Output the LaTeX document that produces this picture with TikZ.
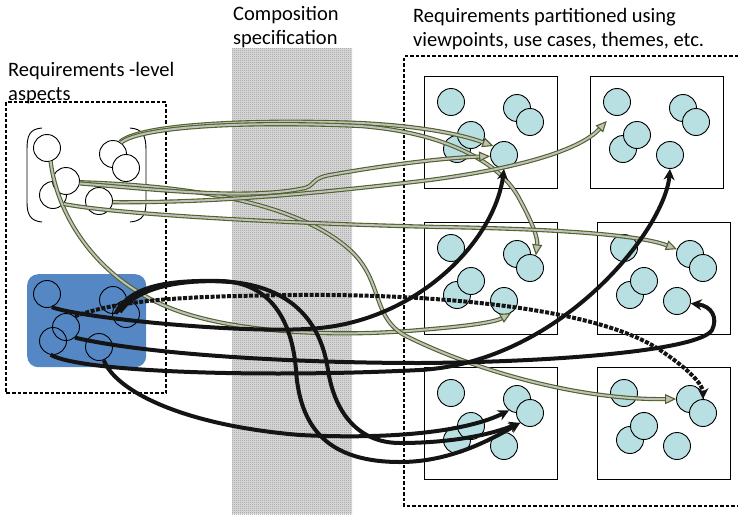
\documentclass[tikz,border=0pt]{standalone}
\usepackage{fontspec}
\setmainfont{Carlito}
\usetikzlibrary{arrows.meta,patterns.meta,positioning}

\definecolor{reqblue}{RGB}{84,135,196}
\definecolor{reqcyan}{RGB}{184,223,226}
\definecolor{linkolive}{RGB}{79,98,40}
\definecolor{linkgrey}{RGB}{192,193,190}

% fine checker used for the composition strip
\tikzdeclarepattern{
  name=finecheck,
  type=uncolored,
  bottom left={(0pt,0pt)}, top right={(2pt,2pt)},
  tile size={(2pt,2pt)},
  code={
    \pgfpathrectangle{\pgfpointorigin}{\pgfqpoint{1pt}{1pt}}
    \pgfpathrectangle{\pgfqpoint{1pt}{1pt}}{\pgfqpoint{1pt}{1pt}}
    \pgfusepath{fill}
  }
}

\tikzset{
  circ/.style={circle, draw=black, line width=0.9pt, minimum size=27pt, inner sep=0pt},
  aspect/.style={circ, fill=white},
  vp/.style={circ, fill=reqcyan},
  vpbox/.style={draw=black, line width=1pt, minimum width=133pt, minimum height=112pt,
    anchor=north west, inner sep=0pt},
  dashbox/.style={draw=black, line width=1.4pt, dash pattern=on 3.5pt off 2pt},
  glink/.style={draw=linkolive, line width=1.1pt, double=linkgrey, double distance=2pt,
    -{Triangle[length=11pt, width=10pt, fill=linkgrey]}},
  klink/.style={draw=black!92, line width=4pt, -{Stealth[length=11pt, width=11pt]}},
  lbl/.style={anchor=north west, align=left, inner sep=0pt, font=\fontsize{20.5}{24}\selectfont},
}

\begin{document}
\begin{tikzpicture}[x=1pt, y=-1pt]
  \useasboundingbox (0,0) rectangle (738,514);

  % composition strip
  \fill[gray!25] (232,48) rectangle (352,514);
  \fill[pattern=finecheck, pattern color=gray!85] (232,48) rectangle (352,514);

  % headings
  \node[lbl] (hleft) at (8,62) {Requirements -level\\aspects};
  \node[lbl] (hmid) at (233,6) {Composition\\specification};
  \node[lbl] (hright) at (413,8) {Requirements partitioned using\\viewpoints, use cases, themes, etc.};

  % dashed frames
  \draw[dashbox] (6,102) rectangle (166,393);
  \draw[dashbox] (738,56) -- (404,56) -- (404,506) -- (738,506);

  % aspect groups on the left
  \draw[line width=0.9pt] (42,128) .. controls (29,129) and (27,136) .. (27,150) -- (27,202)
    .. controls (27,214) and (30,221) .. (42,222);
  \draw[line width=0.9pt] (130,128) .. controls (143,129) and (146,136) .. (146,150) -- (146,202)
    .. controls (146,214) and (143,221) .. (130,222);
  \foreach \dx/\dy/\k in {0/0/1, 66/6/2, 79/20/3, 6/47/4, 19/33/5, 52/53/6}
    \node[aspect] (t\k) at (47+\dx,148+\dy) {};

  \node[fill=reqblue, rounded corners=11pt, minimum width=119pt, minimum height=93pt,
    anchor=north west, inner sep=0pt] (grp) at (27,274) {};
  \foreach \dx/\dy/\k in {0/0/1, 66/6/2, 79/20/3, 6/47/4, 19/33/5, 52/53/6}
    \node[circ] (q\k) at (47+\dx,294+\dy) {};

  % partitions, six requirements each
  \foreach \bx/\by/\nm in {424/76/p11, 590/76/p12, 424/222/p21, 597/222/p22, 424/367/p31, 597/367/p32}{
    \node[vpbox] (\nm) at (\bx,\by) {};
    \foreach \dx/\dy/\k in {27/26/1, 93/32/2, 106/46/3, 33/73/4, 47/59/5, 80/79/6}
      \node[vp] (\nm-\k) at (\bx+\dx,\by+\dy) {};
  }

  % aspect links
  \draw[glink] (t2.60) .. controls (140,124) and (250,119) .. (360,123)
    .. controls (420,126) and (460,134) .. (p11-6.140);
  \draw[glink] (t2.55) .. controls (142,126) and (250,121) .. (360,126)
    .. controls (440,132) and (500,160) .. (520,200) .. controls (532,222) and (538,238) .. (p21-3.65);
  \draw[glink] (t1.-75) .. controls (58,220) and (100,280) .. (170,308)
    .. controls (230,332) and (330,338) .. (420,330) .. controls (470,326) and (495,322) .. (p21-6.-60);
  \draw[glink] (t5.-5) .. controls (200,186) and (300,205) .. (350,250)
    .. controls (385,282) and (370,320) .. (410,338) .. controls (480,372) and (580,400) .. (p32-2.west);
  \draw[glink] (t5.-10) .. controls (160,190) and (250,200) .. (305,188)
    .. controls (315,185) and (312,178) .. (330,175) .. controls (380,166) and (440,158) .. (p11-6.185);
  \draw[glink, shorten >=8pt] (t6.-5) .. controls (220,203) and (330,192) .. (430,180)
    .. controls (520,168) and (580,150) .. (p12-1.-110);
  \draw[glink] (t4.-40) .. controls (120,215) and (300,224) .. (440,227)
    .. controls (560,229) and (640,235) .. (p22-2.160);

  % composed links from the blue group
  \draw[klink, dash pattern=on 4pt off 1.5pt] (q5.50) .. controls (120,300) and (180,296) .. (300,295)
    .. controls (450,294) and (600,310) .. (660,350) .. controls (690,370) and (703,385) .. (p32-3.north);
  \draw[klink] (q1.-70) .. controls (80,318) and (250,335) .. (320,328)
    .. controls (420,318) and (495,240) .. (p11-6.south);
  \draw[klink] (q2.-80) .. controls (130,285) and (170,280) .. (220,281)
    .. controls (270,282) and (292,320) .. (296,370) .. controls (300,430) and (330,462) .. (400,462)
    .. controls (450,462) and (490,440) .. (p31-3.225);
  \draw[klink] (q2.-60) .. controls (140,282) and (200,278) .. (240,283)
    .. controls (300,292) and (322,330) .. (328,370) .. controls (335,415) and (360,443) .. (400,443)
    .. controls (450,443) and (490,435) .. (p31-3.225);
  \draw[klink] (q6.-70) .. controls (115,390) and (180,425) .. (300,435)
    .. controls (400,440) and (470,430) .. (p31-2.235);
  \draw[klink] (q5.-50) .. controls (150,355) and (300,363) .. (420,363)
    .. controls (560,362) and (700,350) .. (712,330) .. controls (718,318) and (712,306) .. (p22-6.-10);
  \draw[klink] (q4.-100) .. controls (80,372) and (260,378) .. (420,370)
    .. controls (560,362) and (665,230) .. (p12-6.south);
\end{tikzpicture}
\end{document}
